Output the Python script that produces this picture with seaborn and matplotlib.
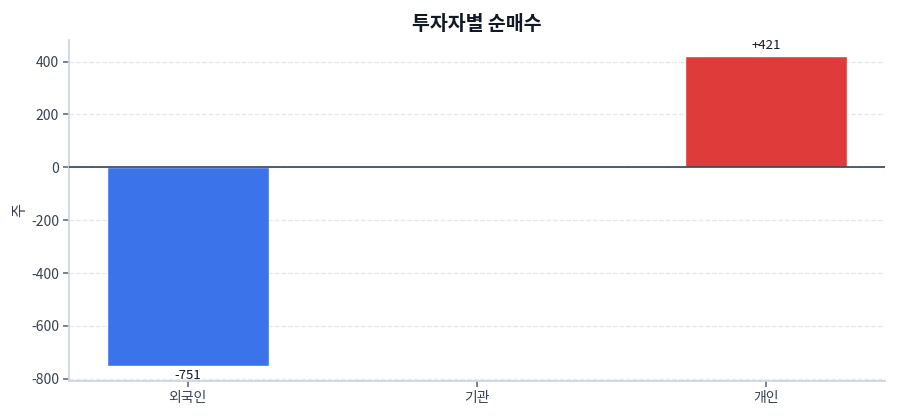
import pandas as pd
import matplotlib
matplotlib.use('Agg')
import matplotlib.pyplot as plt
import seaborn as sns

# 데이터
investors = ['외국인', '기관', '개인']
net_buy = [-751, 0, 421]
bar_colors = ['#3b73eb', '#9ca3af', '#e03b3b']

df = pd.DataFrame({'투자자': investors, '순매수': net_buy})

sns.set_theme(style="white")
plt.rcParams['font.family'] = ['Noto Sans CJK KR', 'DejaVu Sans']
plt.rcParams['axes.unicode_minus'] = False

fig, ax = plt.subplots(figsize=(9, 4.2), dpi=100)
fig.subplots_adjust(left=0.077, right=0.983, bottom=0.093, top=0.905)

sns.barplot(data=df, x='투자자', y='순매수', hue='투자자', palette=bar_colors,
            width=0.56, legend=False, saturation=1, ax=ax)

# 값 라벨
for i, v in enumerate(net_buy):
    if v == 0:
        continue
    txt = f'+{v}' if v > 0 else f'{v}'
    ax.annotate(txt, (i, v), xytext=(0, 3 if v > 0 else -2), textcoords='offset points',
                ha='center', va='bottom' if v > 0 else 'top', fontsize=9.5, color='#111827')

ax.axhline(0, color='#334155', linewidth=1.2, zorder=3)
ax.grid(axis='y', linestyle='--', color='#e5e7eb', linewidth=0.9)
ax.set_axisbelow(True)
ax.set_xlim(-0.41, 2.41)
ax.set_ylim(-808, 482)

ax.set_title('투자자별 순매수', fontsize=14, fontweight='bold', color='#111827', pad=7)
ax.set_xlabel('')
ax.set_ylabel('주', fontsize=11, color='#374151', labelpad=2)

for side in ['top', 'right']:
    ax.spines[side].set_visible(False)
for side in ['left', 'bottom']:
    ax.spines[side].set_color('#cbd5e1')
ax.tick_params(axis='both', colors='#6b7280', labelcolor='#374151', labelsize=10,
               length=4, left=True, bottom=True)
ax.set_yticks([-800, -600, -400, -200, 0, 200, 400])

plt.savefig('out.png', dpi=100)
